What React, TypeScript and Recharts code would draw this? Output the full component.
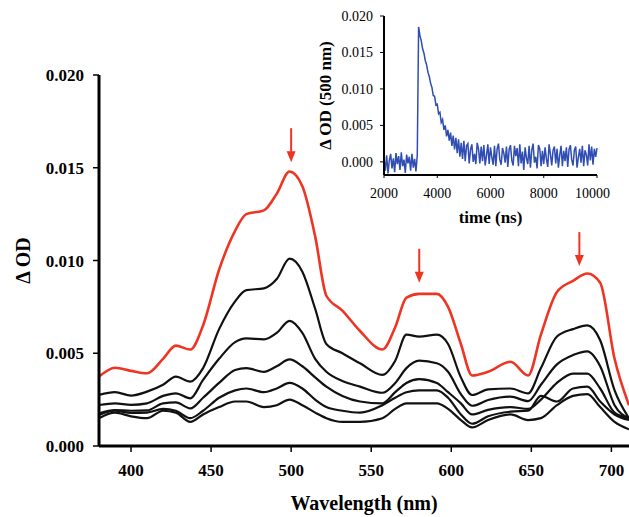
import React from 'react';
import { LineChart, Line, XAxis, YAxis, ReferenceDot } from 'recharts';

// ---- main spectra (transient absorption) ----
const wavelengths = [380, 390, 400, 410, 420, 428, 437, 445, 455, 465, 472, 483, 491, 499, 507, 515, 522, 532, 543, 557, 565, 572, 580, 591, 598, 606, 613, 623, 637, 648, 656, 666, 676, 685, 693, 702, 711];

const redSeries = [0.00374, 0.00422, 0.00405, 0.00392, 0.0047, 0.00541, 0.0052, 0.0065, 0.0095, 0.0116, 0.0125, 0.0127, 0.0136, 0.0148, 0.0140, 0.0113, 0.0081, 0.0073, 0.0062, 0.0052, 0.0064, 0.0080, 0.0082, 0.0082, 0.0075, 0.0055, 0.0038, 0.0040, 0.00454, 0.0038, 0.0060, 0.0083, 0.0089, 0.0093, 0.0088, 0.0047, 0.0022];
const black1 = [0.00275, 0.0029, 0.00272, 0.00293, 0.0033, 0.00374, 0.00347, 0.0042, 0.0063, 0.0078, 0.0084, 0.0085, 0.009, 0.0101, 0.0094, 0.0074, 0.0055, 0.005, 0.00446, 0.00383, 0.0046, 0.006, 0.0059, 0.006, 0.0055, 0.0037, 0.00275, 0.00305, 0.0031, 0.00284, 0.0042, 0.0059, 0.0063, 0.0065, 0.0057, 0.003, 0.0015];
const black2 = [0.00221, 0.0023, 0.00222, 0.0023, 0.0027, 0.00284, 0.00257, 0.00356, 0.0047, 0.0056, 0.0058, 0.00575, 0.0061, 0.00675, 0.0061, 0.0047, 0.004, 0.0035, 0.0032, 0.00287, 0.0034, 0.0042, 0.0046, 0.00446, 0.004, 0.0028, 0.00217, 0.00248, 0.00266, 0.00242, 0.0033, 0.0044, 0.0049, 0.0051, 0.0043, 0.0022, 0.0015];
const black3 = [0.00176, 0.00194, 0.0019, 0.00192, 0.0023, 0.00235, 0.00203, 0.0026, 0.0034, 0.0041, 0.0042, 0.004, 0.0043, 0.00467, 0.0043, 0.0037, 0.0032, 0.0027, 0.0024, 0.0023, 0.0029, 0.0034, 0.0036, 0.0034, 0.0029, 0.0023, 0.0017, 0.00195, 0.0021, 0.002, 0.0025, 0.0034, 0.0039, 0.0039, 0.0031, 0.0018, 0.0015];
const black4 = [0.00167, 0.0019, 0.00178, 0.0018, 0.002, 0.0019, 0.0015, 0.0019, 0.0026, 0.003, 0.0031, 0.0029, 0.0031, 0.0034, 0.0031, 0.0025, 0.0021, 0.0019, 0.0018, 0.0022, 0.0026, 0.0029, 0.003, 0.003, 0.0026, 0.0017, 0.0012, 0.0016, 0.00185, 0.0019, 0.0027, 0.0024, 0.0031, 0.0032, 0.0024, 0.0017, 0.0014];
const black5 = [0.0015, 0.0018, 0.0016, 0.0015, 0.0019, 0.0018, 0.0013, 0.0017, 0.0021, 0.0024, 0.0024, 0.0021, 0.0022, 0.0025, 0.0022, 0.0018, 0.0015, 0.0013, 0.0013, 0.0015, 0.002, 0.0023, 0.0023, 0.0023, 0.002, 0.0014, 0.001, 0.0014, 0.0017, 0.0014, 0.0015, 0.0022, 0.0027, 0.0028, 0.0021, 0.0013, 0.0009];

const mainXTicks = [400, 450, 500, 550, 600, 650, 700];
const mainYTicks = [0, 0.005, 0.01, 0.015, 0.02];

const arrowWavelengths = [500, 580, 680];
const arrowTips = [0.0153, 0.0088, 0.0097];

// ---- inset kinetic trace at 500 nm ----
const insetStart = 2000;
const insetStep = 50;
const kineticValues = [
  0.0004, -0.0012, 0.0009, -0.0016, 0.0002, 0.0011, -0.0009, 0.0005, -0.0014, 0.0012,
  -0.0003, 0.0008, -0.0011, 0.0013, -0.0006, 0.0003, -0.0015, 0.001, -0.0002, 0.0007,
  -0.0012, 0.0011, -0.0008, 0.0004, -0.0013, 0.0009,
  0.0185, 0.0173, 0.0166, 0.0155, 0.0149, 0.0139, 0.0133, 0.0123, 0.0117, 0.0108,
  0.0102, 0.0091, 0.009, 0.0078, 0.0079, 0.0066, 0.0068, 0.0054, 0.0058, 0.0044,
  0.0050, 0.0035, 0.0044, 0.0029, 0.0040, 0.0022, 0.0036, 0.0017, 0.0033, 0.0012,
  0.0031, 0.0007, 0.0026, 0.0004, 0.0029, 0.0001, 0.0022, 0.0025, -0.0002, 0.0017,
  0.0024, 0.0, 0.0011, -0.0003, 0.0026, 0.0018, -0.0002, 0.0021, 0.0001, 0.0023,
  -0.0005, 0.0009, 0.0024, -0.0003, 0.002, 0.0006, -0.0004, 0.0022, -0.0006, 0.0018,
  0.0025, 0.0003, -0.0004, 0.0019, 0.0012, -0.0001, 0.0021, -0.0007, 0.0017, 0.0023,
  0.0002, -0.0005, 0.0022, 0.0008, 0.0019, -0.0006, 0.0024, -0.0002, 0.0014, -0.0011,
  0.002, 0.0005, -0.0003, 0.0022, -0.0008, 0.0016, 0.0025, -0.0001, 0.0007, -0.0009,
  0.0023, 0.0018, -0.0006, 0.0015, -0.0003, 0.002, 0.0004, -0.0007, 0.0024, 0.0011,
  -0.0005, 0.0016, 0.0021, -0.0002, 0.0018, -0.0008, 0.0009, 0.0022, -0.0006, 0.0015,
  0.0001, 0.002, -0.0007, 0.0017, 0.0023, 0.0003, -0.0005, 0.0016, 0.0021, -0.0008,
  0.0006, 0.0018, -0.0001, 0.0022, -0.0006, 0.0016, 0.0010, -0.0005, 0.0024, 0.0002,
  0.0021, -0.0004, 0.0018, 0.0007, 0.0019
];
const insetXTicks = [2000, 4000, 6000, 8000, 10000];
const insetYTicks = [0, 0.005, 0.01, 0.015, 0.02];

const FONT = '"Liberation Serif", "Times New Roman", Times, serif';
const RED = '#EE3524';
const BLUE = '#2F4DB2';

const spectra = wavelengths.map((w, i) => ({
  w,
  red: redSeries[i],
  b1: black1[i],
  b2: black2[i],
  b3: black3[i],
  b4: black4[i],
  b5: black5[i],
}));

const kinetics = kineticValues.map((v, i) => ({ t: insetStart + i * insetStep, v }));

const Arrow = (props: any) => {
  const { cx, cy } = props;
  if (cx == null || cy == null) return null;
  return (
    <g>
      <line x1={cx} y1={cy - 34} x2={cx} y2={cy - 9} stroke={RED} strokeWidth={2} />
      <polygon points={`${cx - 4.5},${cy - 11} ${cx + 4.5},${cy - 11} ${cx},${cy}`} fill={RED} />
    </g>
  );
};

const blackKeys = ['b5', 'b4', 'b3', 'b2', 'b1'];

export default function App() {
  const mainTick = { fill: '#000', fontSize: 17, fontWeight: 'bold', fontFamily: FONT };
  const insetTick = { fill: '#000', fontSize: 14, fontFamily: FONT };
  return (
    <div style={{ position: 'absolute', left: 0, top: 0, width: 629, height: 517, background: '#fff' }}>
      <div style={{ position: 'absolute', left: 0, top: 0 }}>
        <LineChart width={629} height={517} data={spectra} margin={{ top: 75, right: 0, bottom: 0, left: 0 }}>
          <XAxis
            dataKey="w"
            type="number"
            domain={[380, 711]}
            ticks={mainXTicks}
            allowDataOverflow
            height={71}
            tickSize={6}
            tickMargin={12}
            axisLine={{ stroke: '#000', strokeWidth: 3 }}
            tickLine={{ stroke: '#000', strokeWidth: 1.5 }}
            tick={mainTick}
            label={{ value: 'Wavelength (nm)', position: 'center', dy: 21, style: { fill: '#000', fontSize: 20, fontWeight: 'bold', fontFamily: FONT } }}
          />
          <YAxis
            type="number"
            domain={[0, 0.02]}
            ticks={mainYTicks}
            width={99}
            tickSize={6}
            tickMargin={9}
            tickFormatter={(v: number) => v.toFixed(3)}
            axisLine={{ stroke: '#000', strokeWidth: 3 }}
            tickLine={{ stroke: '#000', strokeWidth: 1.5 }}
            tick={mainTick}
            label={{ value: 'Δ OD', angle: -90, position: 'center', dx: -27, style: { fill: '#000', fontSize: 20, fontWeight: 'bold', fontFamily: FONT } }}
          />
          {blackKeys.map((k) => (
            <Line key={k} dataKey={k} type="monotone" stroke="#111" strokeWidth={2.2} dot={false} isAnimationActive={false} />
          ))}
          <Line dataKey="red" type="monotone" stroke={RED} strokeWidth={2.6} dot={false} isAnimationActive={false} />
          {arrowWavelengths.map((w, i) => (
            <ReferenceDot key={w} x={w} y={arrowTips[i]} r={0} shape={Arrow} />
          ))}
        </LineChart>
      </div>
      <div style={{ position: 'absolute', left: 300, top: 0 }}>
        <LineChart width={310} height={230} data={kinetics} margin={{ top: 16, right: 13, bottom: 0, left: 0 }}>
          <XAxis
            dataKey="t"
            type="number"
            domain={[2000, 10000]}
            ticks={insetXTicks}
            height={55}
            tickSize={3}
            tickMargin={10}
            axisLine={{ stroke: '#000', strokeWidth: 2 }}
            tickLine={{ stroke: '#000', strokeWidth: 1 }}
            tick={insetTick}
            label={{ value: 'time (ns)', position: 'center', dy: 14, style: { fill: '#000', fontSize: 17, fontWeight: 'bold', fontFamily: FONT } }}
          />
          <YAxis
            type="number"
            domain={[-0.0018, 0.02]}
            allowDataOverflow
            ticks={insetYTicks}
            width={84}
            tickSize={4}
            tickMargin={7}
            tickFormatter={(v: number) => v.toFixed(3)}
            axisLine={{ stroke: '#000', strokeWidth: 2 }}
            tickLine={{ stroke: '#000', strokeWidth: 1 }}
            tick={insetTick}
            label={{ value: 'Δ OD (500 nm)', angle: -90, position: 'center', dx: -17, style: { fill: '#000', fontSize: 17, fontWeight: 'bold', fontFamily: FONT } }}
          />
          <Line dataKey="v" type="linear" stroke={BLUE} strokeWidth={1.5} dot={false} isAnimationActive={false} />
        </LineChart>
      </div>
    </div>
  );
}
